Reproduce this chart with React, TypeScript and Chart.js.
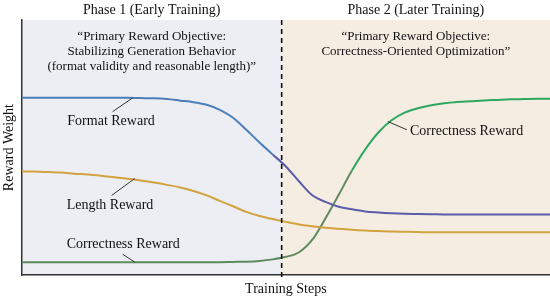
import React, { useEffect, useRef } from "react";
import { Chart, registerables } from "chart.js";

Chart.register(...registerables);

const steps = [
  0, 2.5, 5, 7.5, 10, 12.5, 15, 17.5, 20, 22.5, 25, 27.5, 30, 32.5, 35, 37.5, 40, 42.5, 45, 47.5, 50,
  52.5, 55, 57.5, 60, 62.5, 65, 67.5, 70, 72.5, 75, 77.5, 80, 82.5, 85, 87.5, 90, 92.5, 95, 97.5, 100,
];
const formatReward = [
  0.695, 0.695, 0.695, 0.695, 0.695, 0.695, 0.695, 0.695, 0.695, 0.694, 0.693, 0.69, 0.684, 0.678, 0.668, 0.648,
  0.617, 0.57, 0.52, 0.473, 0.426, 0.367, 0.313, 0.287, 0.268, 0.258, 0.25, 0.246, 0.243, 0.241, 0.24,
  0.239, 0.238, 0.238, 0.238, 0.238, 0.238, 0.238, 0.238, 0.238, 0.238,
];
const lengthReward = [
  0.406, 0.406, 0.404, 0.402, 0.398, 0.395, 0.39, 0.384, 0.378, 0.371, 0.363, 0.354, 0.344, 0.33, 0.313, 0.291,
  0.27, 0.248, 0.232, 0.22, 0.209, 0.199, 0.192, 0.186, 0.182, 0.178, 0.175, 0.173, 0.171, 0.17, 0.169,
  0.168, 0.168, 0.168, 0.168, 0.168, 0.168, 0.168, 0.168, 0.168, 0.168,
];
const correctnessReward = [
  0.051, 0.051, 0.051, 0.051, 0.051, 0.051, 0.051, 0.051, 0.051, 0.051, 0.051, 0.051, 0.051, 0.051, 0.051, 0.051,
  0.052, 0.053, 0.056, 0.062, 0.072, 0.09, 0.139, 0.223, 0.315, 0.41, 0.492, 0.559, 0.607, 0.637, 0.654,
  0.666, 0.674, 0.679, 0.682, 0.685, 0.687, 0.689, 0.69, 0.691, 0.691,
];

const phaseBoundary = 49.2;
const phaseTitles = ["Phase 1 (Early Training)", "Phase 2 (Later Training)"];
const phaseNotes = [
  ["\u201cPrimary Reward Objective:", "Stabilizing Generation Behavior", "(format validity and reasonable length)\u201d"],
  ["\u201cPrimary Reward Objective:", "Correctness-Oriented Optimization\u201d"],
];
const phaseColors = ["#eceef4", "#f5ede2"];

// curve labels: text, anchor (data coords), alignment, leader line from/to (data coords)
const labelTexts = ["Format Reward", "Length Reward", "Correctness Reward", "Correctness Reward"];
const labelX = [16.9, 16.7, 19.2, 73.5];
const labelY = [0.602, 0.273, 0.121, 0.5625];
const labelAlign = ["center", "center", "center", "left"];
const leaderFrom = [[17.2, 0.641], [17.0, 0.3125], [19.1, 0.082], [69.3, 0.602]];
const leaderTo = [[21.0, 0.695], [21.4, 0.379], [21.4, 0.051], [72.9, 0.57]];

const SERIF = "'Liberation Serif', 'DejaVu Serif', serif";

export default function App() {
  const ref = useRef<HTMLCanvasElement | null>(null);

  useEffect(() => {
    document.body.style.margin = "0";
    const canvas = ref.current;
    if (!canvas) return;

    const overlay = {
      id: "overlay",
      beforeDraw(chart: any) {
        const { ctx, chartArea, scales } = chart;
        const xb = scales.x.getPixelForValue(phaseBoundary);
        ctx.save();
        ctx.fillStyle = "#ffffff";
        ctx.fillRect(0, 0, chart.width, chart.height);
        ctx.fillStyle = phaseColors[0];
        ctx.fillRect(chartArea.left, chartArea.top, xb - chartArea.left, chartArea.bottom - chartArea.top);
        ctx.fillStyle = phaseColors[1];
        ctx.fillRect(xb, chartArea.top, chartArea.right - xb, chartArea.bottom - chartArea.top);
        ctx.restore();
      },
      afterDatasetsDraw(chart: any) {
        const { ctx, chartArea, scales } = chart;
        const xs = scales.x;
        const ys = scales.y;
        const xb = xs.getPixelForValue(phaseBoundary);
        ctx.save();
        ctx.strokeStyle = "#111";
        ctx.lineWidth = 1.6;
        ctx.setLineDash([5, 4]);
        ctx.beginPath();
        ctx.moveTo(xb, chartArea.top);
        ctx.lineTo(xb, chartArea.bottom + 2);
        ctx.stroke();
        ctx.setLineDash([]);

        const centers = [(chartArea.left + xb) / 2, (xb + chartArea.right) / 2];
        ctx.fillStyle = "#111";
        ctx.textAlign = "center";
        ctx.textBaseline = "middle";
        ctx.font = `14px ${SERIF}`;
        phaseTitles.forEach((t, i) => ctx.fillText(t, centers[i], chartArea.top - 10));
        ctx.font = `13px ${SERIF}`;
        phaseNotes.forEach((lines, i) => {
          lines.forEach((l, j) => ctx.fillText(l, centers[i], chartArea.top + 17 + j * 15));
        });

        ctx.strokeStyle = "#333";
        ctx.lineWidth = 1;
        ctx.font = `14px ${SERIF}`;
        labelTexts.forEach((t, i) => {
          ctx.beginPath();
          ctx.moveTo(xs.getPixelForValue(leaderFrom[i][0]), ys.getPixelForValue(leaderFrom[i][1]));
          ctx.lineTo(xs.getPixelForValue(leaderTo[i][0]), ys.getPixelForValue(leaderTo[i][1]));
          ctx.stroke();
          ctx.textAlign = labelAlign[i] as CanvasTextAlign;
          ctx.fillText(t, xs.getPixelForValue(labelX[i]), ys.getPixelForValue(labelY[i]));
        });
        ctx.restore();
      },
    };

    const toPoints = (vals: number[]) => steps.map((s, i) => ({ x: s, y: vals[i] }));

    const chart = new Chart(canvas, {
      type: "line",
      data: {
        datasets: [
          {
            label: "Format Reward",
            data: toPoints(formatReward),
            borderColor: "#4a7fb8",
            segment: { borderColor: (c: any) => (c.p0.parsed.x >= 47.5 ? "#5a5ca8" : "#4a7fb8") },
            borderWidth: 2,
            pointRadius: 0,
            cubicInterpolationMode: "monotone",
          },
          {
            label: "Length Reward",
            data: toPoints(lengthReward),
            borderColor: "#d2a23e",
            borderWidth: 2,
            pointRadius: 0,
            cubicInterpolationMode: "monotone",
          },
          {
            label: "Correctness Reward",
            data: toPoints(correctnessReward),
            borderColor: "#2fa85f",
            segment: { borderColor: (c: any) => (c.p0.parsed.x < 62.5 ? "#5e8a5f" : "#2fa85f") },
            borderWidth: 2,
            pointRadius: 0,
            cubicInterpolationMode: "monotone",
          },
        ],
      },
      options: {
        animation: false,
        responsive: false,
        layout: { padding: { top: 20, left: 0, right: 0, bottom: 0 } },
        plugins: { legend: { display: false }, tooltip: { enabled: false } },
        scales: {
          x: {
            type: "linear",
            min: 0,
            max: 100,
            ticks: { display: false },
            grid: { display: true, color: "rgba(0,0,0,0)", drawTicks: false },
            border: { display: true, color: "#333", width: 1.5 },
            title: { display: true, text: "Training Steps", color: "#111", font: { family: SERIF, size: 14 }, padding: { top: 6, bottom: 3 } },
          },
          y: {
            min: 0,
            max: 1,
            ticks: { display: false },
            grid: { display: true, color: "rgba(0,0,0,0)", drawTicks: false },
            border: { display: true, color: "#333", width: 1.5 },
            title: { display: true, text: "Reward Weight", color: "#111", font: { family: SERIF, size: 14 }, padding: { top: 1, bottom: 4 } },
          },
        },
      },
      plugins: [overlay],
    });
    return () => chart.destroy();
  }, []);

  return (
    <div style={{ width: 550, height: 301 }}>
      <canvas ref={ref} width={550} height={301} style={{ display: "block" }} />
    </div>
  );
}
